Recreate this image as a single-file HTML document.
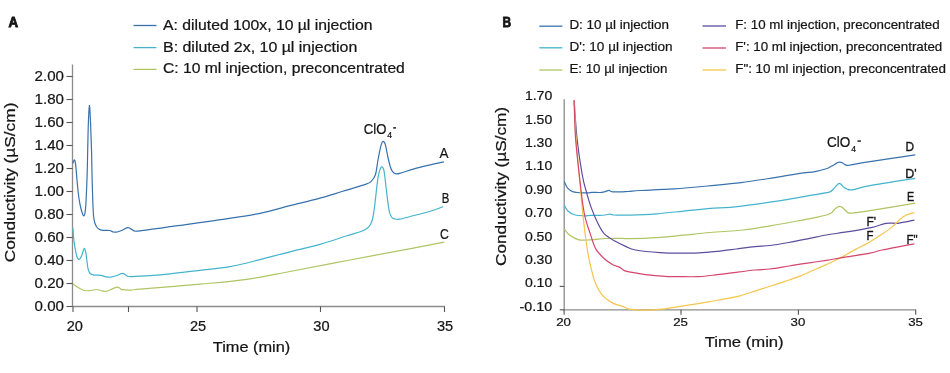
<!DOCTYPE html>
<html><head><meta charset="utf-8"><style>
html,body{margin:0;padding:0;background:#fff;width:950px;height:373px;overflow:hidden}
svg{display:block;will-change:transform}
text{font-family:"Liberation Sans", sans-serif;fill:#151515;stroke:#151515;stroke-width:0.22px}
</style></head><body>
<svg width="950" height="373" viewBox="0 0 950 373">
<rect width="950" height="373" fill="#fff"/>
<text x="8.4" y="26.8" font-size="15.0" text-anchor="start" font-weight="bold" textLength="9.6" lengthAdjust="spacingAndGlyphs" style="stroke-width:0.9px">A</text>
<line x1="133.5" y1="25.5" x2="156.5" y2="25.5" stroke="#3872ad" stroke-width="1.3"/>
<text x="163" y="29.8" font-size="14.1" text-anchor="start" font-weight="normal" textLength="209.5" lengthAdjust="spacingAndGlyphs">A: diluted 100x, 10 µl injection</text>
<line x1="133.5" y1="47.6" x2="156.5" y2="47.6" stroke="#44b4cc" stroke-width="1.3"/>
<text x="163" y="51.5" font-size="14.1" text-anchor="start" font-weight="normal" textLength="194.3" lengthAdjust="spacingAndGlyphs">B: diluted 2x, 10 µl injection</text>
<line x1="133.5" y1="69.4" x2="156.5" y2="69.4" stroke="#afc563" stroke-width="1.3"/>
<text x="163" y="73.0" font-size="14.1" text-anchor="start" font-weight="normal" textLength="241.8" lengthAdjust="spacingAndGlyphs">C: 10 ml injection, preconcentrated</text>
<line x1="72.5" y1="64.5" x2="72.5" y2="307" stroke="#8c8c8c" stroke-width="1.3"/>
<line x1="72" y1="306.5" x2="444.8" y2="306.5" stroke="#8c8c8c" stroke-width="1.3"/>
<line x1="66.5" y1="306.5" x2="72.5" y2="306.5" stroke="#555" stroke-width="1.1"/>
<text x="64" y="311.1" font-size="14.0" text-anchor="end" font-weight="normal" textLength="29.4" lengthAdjust="spacingAndGlyphs">0.00</text>
<line x1="66.5" y1="283.5" x2="72.5" y2="283.5" stroke="#555" stroke-width="1.1"/>
<text x="64" y="288.1" font-size="14.0" text-anchor="end" font-weight="normal" textLength="29.4" lengthAdjust="spacingAndGlyphs">0.20</text>
<line x1="66.5" y1="260.5" x2="72.5" y2="260.5" stroke="#555" stroke-width="1.1"/>
<text x="64" y="265.1" font-size="14.0" text-anchor="end" font-weight="normal" textLength="29.4" lengthAdjust="spacingAndGlyphs">0.40</text>
<line x1="66.5" y1="237.5" x2="72.5" y2="237.5" stroke="#555" stroke-width="1.1"/>
<text x="64" y="242.1" font-size="14.0" text-anchor="end" font-weight="normal" textLength="29.4" lengthAdjust="spacingAndGlyphs">0.60</text>
<line x1="66.5" y1="214.5" x2="72.5" y2="214.5" stroke="#555" stroke-width="1.1"/>
<text x="64" y="219.1" font-size="14.0" text-anchor="end" font-weight="normal" textLength="29.4" lengthAdjust="spacingAndGlyphs">0.80</text>
<line x1="66.5" y1="191.5" x2="72.5" y2="191.5" stroke="#555" stroke-width="1.1"/>
<text x="64" y="196.1" font-size="14.0" text-anchor="end" font-weight="normal" textLength="29.4" lengthAdjust="spacingAndGlyphs">1.00</text>
<line x1="66.5" y1="168.5" x2="72.5" y2="168.5" stroke="#555" stroke-width="1.1"/>
<text x="64" y="173.1" font-size="14.0" text-anchor="end" font-weight="normal" textLength="29.4" lengthAdjust="spacingAndGlyphs">1.20</text>
<line x1="66.5" y1="145.5" x2="72.5" y2="145.5" stroke="#555" stroke-width="1.1"/>
<text x="64" y="150.1" font-size="14.0" text-anchor="end" font-weight="normal" textLength="29.4" lengthAdjust="spacingAndGlyphs">1.40</text>
<line x1="66.5" y1="122.5" x2="72.5" y2="122.5" stroke="#555" stroke-width="1.1"/>
<text x="64" y="127.1" font-size="14.0" text-anchor="end" font-weight="normal" textLength="29.4" lengthAdjust="spacingAndGlyphs">1.60</text>
<line x1="66.5" y1="99.5" x2="72.5" y2="99.5" stroke="#555" stroke-width="1.1"/>
<text x="64" y="104.1" font-size="14.0" text-anchor="end" font-weight="normal" textLength="29.4" lengthAdjust="spacingAndGlyphs">1.80</text>
<line x1="66.5" y1="76.5" x2="72.5" y2="76.5" stroke="#555" stroke-width="1.1"/>
<text x="64" y="81.1" font-size="14.0" text-anchor="end" font-weight="normal" textLength="29.4" lengthAdjust="spacingAndGlyphs">2.00</text>
<line x1="73" y1="306.5" x2="73" y2="312" stroke="#555" stroke-width="1.1"/>
<line x1="128.5" y1="306.5" x2="128.5" y2="312" stroke="#555" stroke-width="1.1"/>
<line x1="197" y1="306.5" x2="197" y2="312" stroke="#555" stroke-width="1.1"/>
<line x1="320.5" y1="306.5" x2="320.5" y2="312" stroke="#555" stroke-width="1.1"/>
<line x1="444.5" y1="306.5" x2="444.5" y2="312" stroke="#555" stroke-width="1.1"/>
<text x="74.8" y="331" font-size="14.2" text-anchor="middle" font-weight="normal" textLength="16.2" lengthAdjust="spacingAndGlyphs">20</text>
<text x="198" y="331" font-size="14.2" text-anchor="middle" font-weight="normal" textLength="16.2" lengthAdjust="spacingAndGlyphs">25</text>
<text x="321.4" y="331" font-size="14.2" text-anchor="middle" font-weight="normal" textLength="16.2" lengthAdjust="spacingAndGlyphs">30</text>
<text x="445" y="331" font-size="14.2" text-anchor="middle" font-weight="normal" textLength="16.2" lengthAdjust="spacingAndGlyphs">35</text>
<text x="212.8" y="351.8" font-size="14.2" text-anchor="start" font-weight="normal" textLength="77.5" lengthAdjust="spacingAndGlyphs">Time (min)</text>
<g transform="translate(15.0,262.2) rotate(-90)"><text x="0" y="0" font-size="14.2" text-anchor="start" font-weight="normal" textLength="159.6" lengthAdjust="spacingAndGlyphs">Conductivity (µS/cm)</text></g>
<text x="363.8" y="133.9" font-size="13.8" text-anchor="start" font-weight="normal" textLength="22.6" lengthAdjust="spacingAndGlyphs">ClO</text>
<text x="387.2" y="138.3" font-size="8.4" text-anchor="start" font-weight="normal" textLength="4.8" lengthAdjust="spacingAndGlyphs">4</text>
<rect x="393.2" y="127.2" width="2.8" height="1.4" fill="#111"/>
<text x="439.6" y="158.1" font-size="14" text-anchor="start" font-weight="normal" textLength="9" lengthAdjust="spacingAndGlyphs">A</text>
<text x="441.8" y="203.2" font-size="14" text-anchor="start" font-weight="normal" textLength="7.6" lengthAdjust="spacingAndGlyphs">B</text>
<text x="440" y="239" font-size="14" text-anchor="start" font-weight="normal" textLength="8.8" lengthAdjust="spacingAndGlyphs">C</text>
<path d="M73.0,283.8 C73.8,284.4 76.2,286.5 78.1,287.6 C80.0,288.7 82.3,290.0 84.4,290.5 C86.5,291.0 88.7,290.7 90.7,290.5 C92.7,290.3 94.7,289.5 96.4,289.5 C98.1,289.5 99.2,290.2 100.8,290.5 C102.4,290.8 104.2,291.6 105.9,291.4 C107.6,291.2 109.1,290.2 110.9,289.5 C112.7,288.8 115.1,287.4 116.6,287.2 C118.1,287.0 118.8,287.8 119.8,288.2 C120.8,288.6 120.4,289.4 122.3,289.7 C124.2,290.0 128.2,290.2 131.2,290.1 C134.1,290.0 128.5,290.1 140.0,289.1 C151.5,288.1 182.5,285.8 200.0,284.2 C217.5,282.6 230.0,281.7 245.0,279.6 C260.0,277.5 272.5,274.8 290.0,271.5 C307.5,268.2 329.7,263.9 350.0,260.0 C370.3,256.1 396.3,251.3 412.0,248.3 C427.7,245.3 438.9,243.2 444.3,242.2" fill="none" stroke="#afc563" stroke-width="1.2" stroke-linejoin="round"/>
<path d="M72.9,228.0 C73.1,230.2 73.5,237.5 74.0,241.3 C74.5,245.1 75.1,248.3 75.6,251.0 C76.1,253.7 76.6,256.0 77.2,257.4 C77.8,258.8 78.6,259.6 79.3,259.3 C80.0,259.0 80.8,257.6 81.6,255.8 C82.4,254.0 83.5,249.0 84.2,248.5 C84.9,248.0 85.3,250.6 85.8,252.6 C86.2,254.6 86.5,257.9 86.9,260.6 C87.3,263.3 87.5,266.5 88.0,268.6 C88.5,270.8 89.1,272.4 90.1,273.5 C91.1,274.6 92.3,274.8 94.1,275.1 C95.9,275.4 98.8,275.0 100.8,275.3 C102.8,275.6 104.2,276.5 105.9,276.8 C107.6,277.1 109.2,277.4 110.9,277.2 C112.6,277.0 114.0,276.4 116.0,275.8 C118.0,275.2 121.0,273.2 122.9,273.3 C124.8,273.4 126.0,275.6 127.4,276.2 C128.8,276.8 129.1,276.6 131.2,276.6 C133.3,276.6 133.5,276.7 140.0,276.2 C146.5,275.7 160.0,274.8 170.0,273.8 C180.0,272.8 190.0,271.6 200.0,270.4 C210.0,269.2 220.0,268.4 230.0,266.6 C240.0,264.8 250.0,262.1 260.0,259.6 C270.0,257.1 280.0,254.3 290.0,251.8 C300.0,249.3 310.5,247.1 320.0,244.4 C329.5,241.7 340.1,237.9 346.8,235.8 C353.5,233.7 356.9,232.9 360.2,231.7 C363.5,230.5 365.2,229.6 366.9,228.4 C368.6,227.2 369.5,226.2 370.5,224.5 C371.5,222.8 372.1,220.9 372.8,218.0 C373.5,215.1 373.6,213.6 374.5,207.0 C375.4,200.4 376.9,184.8 377.9,178.4 C378.9,172.0 379.7,170.4 380.4,168.5 C381.1,166.6 381.7,166.8 382.2,166.9 C382.7,167.0 383.0,167.6 383.4,168.8 C383.8,170.0 383.9,169.8 384.5,174.0 C385.1,178.2 386.0,187.4 386.8,193.7 C387.6,199.9 388.5,207.7 389.3,211.5 C390.1,215.3 390.8,215.6 391.5,216.8 C392.2,218.0 392.1,218.2 393.5,218.6 C394.9,219.0 396.3,219.7 399.7,219.2 C403.1,218.7 409.0,216.8 414.1,215.5 C419.2,214.2 425.4,212.7 430.2,211.2 C435.0,209.7 441.0,207.4 443.1,206.6" fill="none" stroke="#44b4cc" stroke-width="1.2" stroke-linejoin="round"/>
<path d="M72.8,163.5 C73.0,162.9 73.6,160.6 74.0,160.2 C74.4,159.8 74.7,159.7 75.0,161.0 C75.3,162.3 75.7,164.8 76.0,168.0 C76.3,171.2 76.6,175.7 77.0,180.0 C77.4,184.3 77.9,189.9 78.4,194.0 C78.9,198.1 79.4,201.2 80.0,204.3 C80.6,207.4 81.4,210.4 82.0,212.3 C82.6,214.2 83.2,215.8 83.7,215.8 C84.2,215.8 84.7,214.9 85.1,212.3 C85.5,209.7 85.8,206.4 86.1,200.3 C86.4,194.2 86.8,184.4 87.1,176.0 C87.4,167.6 87.5,159.0 87.7,150.0 C87.9,141.0 88.1,129.4 88.4,122.0 C88.7,114.6 89.1,105.8 89.4,105.5 C89.7,105.2 90.1,112.6 90.4,120.0 C90.8,127.4 91.2,140.3 91.5,150.0 C91.8,159.7 91.9,169.0 92.1,178.0 C92.3,187.0 92.7,197.7 92.9,204.0 C93.2,210.3 93.2,212.8 93.6,216.0 C93.9,219.2 94.3,221.5 95.0,223.5 C95.7,225.5 96.7,227.0 97.5,228.0 C98.3,229.0 99.2,229.2 100.0,229.6 C100.8,230.0 101.0,230.2 102.6,230.4 C104.2,230.6 107.8,230.2 109.6,230.5 C111.4,230.8 112.1,231.8 113.4,232.0 C114.7,232.2 115.7,232.3 117.2,232.0 C118.7,231.7 120.5,230.9 122.2,230.2 C123.9,229.5 125.9,227.9 127.3,227.6 C128.7,227.3 129.2,228.1 130.4,228.6 C131.6,229.1 132.6,230.4 134.2,230.8 C135.8,231.2 132.8,231.7 140.0,230.8 C147.2,230.0 164.5,227.5 177.6,225.7 C190.7,223.9 205.1,222.0 218.8,219.9 C232.5,217.8 248.1,215.7 260.0,213.3 C271.9,210.9 280.0,208.2 290.0,205.7 C300.0,203.2 311.2,200.6 320.0,198.2 C328.8,195.8 335.3,193.5 343.0,191.2 C350.7,188.8 361.4,185.8 366.1,184.1 C370.8,182.4 369.8,182.7 371.4,181.1 C373.0,179.5 374.4,177.9 375.5,174.5 C376.6,171.1 377.1,164.9 377.9,160.5 C378.7,156.1 379.7,150.8 380.4,147.8 C381.1,144.8 381.6,143.7 382.0,142.6 C382.4,141.5 382.6,141.5 383.0,141.4 C383.4,141.3 383.8,141.6 384.2,142.2 C384.6,142.8 384.9,142.6 385.5,145.2 C386.1,147.8 387.3,154.4 388.1,158.0 C388.9,161.6 389.7,164.8 390.4,167.0 C391.1,169.2 391.5,170.2 392.4,171.3 C393.3,172.4 394.4,173.3 395.6,173.7 C396.8,174.0 396.6,174.2 399.7,173.4 C402.8,172.6 409.0,170.2 414.1,168.8 C419.2,167.4 425.2,166.0 430.2,164.8 C435.2,163.7 441.6,162.4 443.9,161.9" fill="none" stroke="#3872ad" stroke-width="1.2" stroke-linejoin="round"/>
<text x="502.6" y="26.8" font-size="15.0" text-anchor="start" font-weight="bold" textLength="8.6" lengthAdjust="spacingAndGlyphs" style="stroke-width:0.9px">B</text>
<line x1="539.3" y1="26.2" x2="562.4" y2="26.2" stroke="#3872ad" stroke-width="1.3"/>
<text x="569.4" y="29.3" font-size="12.8" text-anchor="start" font-weight="normal" textLength="99.6" lengthAdjust="spacingAndGlyphs">D: 10 µl injection</text>
<line x1="539.3" y1="47.8" x2="562.4" y2="47.8" stroke="#44b4cc" stroke-width="1.3"/>
<text x="569.4" y="50.9" font-size="12.8" text-anchor="start" font-weight="normal" textLength="103.2" lengthAdjust="spacingAndGlyphs">D': 10 µl injection</text>
<line x1="539.3" y1="70" x2="562.4" y2="70" stroke="#afc563" stroke-width="1.3"/>
<text x="569.4" y="73.1" font-size="12.8" text-anchor="start" font-weight="normal" textLength="98" lengthAdjust="spacingAndGlyphs">E: 10 µl injection</text>
<line x1="702.5" y1="26" x2="726" y2="26" stroke="#5d4c9e" stroke-width="1.3"/>
<text x="735.2" y="29.4" font-size="12.8" text-anchor="start" font-weight="normal" textLength="204.4" lengthAdjust="spacingAndGlyphs">F: 10 ml injection, preconcentrated</text>
<line x1="702.5" y1="48" x2="726" y2="48" stroke="#d4466c" stroke-width="1.3"/>
<text x="735.2" y="51.4" font-size="12.8" text-anchor="start" font-weight="normal" textLength="207.1" lengthAdjust="spacingAndGlyphs">F': 10 ml injection, preconcentrated</text>
<line x1="702.5" y1="70" x2="726" y2="70" stroke="#f4c64e" stroke-width="1.3"/>
<text x="735.2" y="73.4" font-size="12.8" text-anchor="start" font-weight="normal" textLength="210.7" lengthAdjust="spacingAndGlyphs">F": 10 ml injection, preconcentrated</text>
<line x1="564.2" y1="99.3" x2="564.2" y2="310.4" stroke="#8c8c8c" stroke-width="1.3"/>
<line x1="563.6" y1="309.8" x2="916" y2="309.8" stroke="#8c8c8c" stroke-width="1.3"/>
<line x1="559.7" y1="286.4" x2="564.2" y2="286.4" stroke="#555" stroke-width="1.1"/>
<line x1="559.7" y1="309.8" x2="564.2" y2="309.8" stroke="#555" stroke-width="1.1"/>
<line x1="564.1" y1="309.8" x2="564.1" y2="314.7" stroke="#555" stroke-width="1.1"/>
<line x1="681" y1="309.8" x2="681" y2="314.7" stroke="#555" stroke-width="1.1"/>
<line x1="798.4" y1="309.8" x2="798.4" y2="314.7" stroke="#555" stroke-width="1.1"/>
<line x1="915.7" y1="309.8" x2="915.7" y2="314.7" stroke="#555" stroke-width="1.1"/>
<text x="552.2" y="100.30000000000001" font-size="12.6" text-anchor="end" font-weight="normal" textLength="27.3" lengthAdjust="spacingAndGlyphs">1.70</text>
<text x="552.2" y="123.68" font-size="12.6" text-anchor="end" font-weight="normal" textLength="27.3" lengthAdjust="spacingAndGlyphs">1.50</text>
<text x="552.2" y="147.06" font-size="12.6" text-anchor="end" font-weight="normal" textLength="27.3" lengthAdjust="spacingAndGlyphs">1.30</text>
<text x="552.2" y="170.44000000000003" font-size="12.6" text-anchor="end" font-weight="normal" textLength="27.3" lengthAdjust="spacingAndGlyphs">1.10</text>
<text x="552.2" y="193.82000000000002" font-size="12.6" text-anchor="end" font-weight="normal" textLength="27.3" lengthAdjust="spacingAndGlyphs">0.90</text>
<text x="552.2" y="217.20000000000002" font-size="12.6" text-anchor="end" font-weight="normal" textLength="27.3" lengthAdjust="spacingAndGlyphs">0.70</text>
<text x="552.2" y="240.58" font-size="12.6" text-anchor="end" font-weight="normal" textLength="27.3" lengthAdjust="spacingAndGlyphs">0.50</text>
<text x="552.2" y="263.96" font-size="12.6" text-anchor="end" font-weight="normal" textLength="27.3" lengthAdjust="spacingAndGlyphs">0.30</text>
<text x="552.2" y="287.34" font-size="12.6" text-anchor="end" font-weight="normal" textLength="27.3" lengthAdjust="spacingAndGlyphs">0.10</text>
<text x="552.2" y="310.71999999999997" font-size="12.6" text-anchor="end" font-weight="normal" textLength="32.6" lengthAdjust="spacingAndGlyphs">-0.10</text>
<text x="563.6" y="326.3" font-size="11.8" text-anchor="middle" font-weight="normal" textLength="14.7" lengthAdjust="spacingAndGlyphs">20</text>
<text x="680.5" y="326.3" font-size="11.8" text-anchor="middle" font-weight="normal" textLength="14.7" lengthAdjust="spacingAndGlyphs">25</text>
<text x="797.9" y="326.3" font-size="11.8" text-anchor="middle" font-weight="normal" textLength="14.7" lengthAdjust="spacingAndGlyphs">30</text>
<text x="915.5" y="326.3" font-size="11.8" text-anchor="middle" font-weight="normal" textLength="14.7" lengthAdjust="spacingAndGlyphs">35</text>
<text x="704.7" y="347.4" font-size="14.2" text-anchor="start" font-weight="normal" textLength="79" lengthAdjust="spacingAndGlyphs">Time (min)</text>
<g transform="translate(505.9,266) rotate(-90)"><text x="0" y="0" font-size="14.2" text-anchor="start" font-weight="normal" textLength="159.1" lengthAdjust="spacingAndGlyphs">Conductivity (µS/cm)</text></g>
<text x="827.1" y="146.7" font-size="13.8" text-anchor="start" font-weight="normal" textLength="23.3" lengthAdjust="spacingAndGlyphs">ClO</text>
<text x="851.2" y="151.5" font-size="8.4" text-anchor="start" font-weight="normal" textLength="4.8" lengthAdjust="spacingAndGlyphs">4</text>
<rect x="857.5" y="140.4" width="3.4" height="1.4" fill="#111"/>
<text x="905.4" y="150.6" font-size="12" text-anchor="start" font-weight="normal" textLength="8.6" lengthAdjust="spacingAndGlyphs" style="stroke-width:0.35px">D</text>
<text x="905.2" y="177.5" font-size="12" text-anchor="start" font-weight="normal" textLength="11.4" lengthAdjust="spacingAndGlyphs" style="stroke-width:0.35px">D'</text>
<text x="906.9" y="200.7" font-size="12" text-anchor="start" font-weight="normal" textLength="7.2" lengthAdjust="spacingAndGlyphs" style="stroke-width:0.35px">E</text>
<text x="866.4" y="226.1" font-size="12" text-anchor="start" font-weight="normal" textLength="9.6" lengthAdjust="spacingAndGlyphs" style="stroke-width:0.35px">F'</text>
<text x="866.4" y="240.4" font-size="12" text-anchor="start" font-weight="normal" textLength="7" lengthAdjust="spacingAndGlyphs" style="stroke-width:0.35px">F</text>
<text x="906.5" y="243.6" font-size="12" text-anchor="start" font-weight="normal" textLength="11.2" lengthAdjust="spacingAndGlyphs" style="stroke-width:0.35px">F"</text>
<path d="M564.3,229.1 C565.2,230.1 567.1,233.3 569.5,235.1 C571.9,236.9 575.4,239.0 578.9,239.8 C582.4,240.6 585.8,240.0 590.2,239.8 C594.6,239.6 600.5,238.8 605.2,238.5 C609.9,238.2 614.2,238.3 618.3,238.3 C622.4,238.3 623.6,238.7 630.0,238.6 C636.4,238.5 647.9,238.2 656.8,237.6 C665.7,237.0 674.7,236.0 683.6,235.2 C692.5,234.3 700.4,233.4 710.4,232.5 C720.4,231.6 733.4,231.1 743.4,230.0 C753.4,228.9 761.3,227.3 770.2,225.8 C779.1,224.3 789.5,222.4 797.0,221.0 C804.5,219.6 809.5,218.8 815.0,217.6 C820.5,216.4 826.7,215.2 830.0,213.8 C833.3,212.4 833.5,210.2 834.7,209.1 C836.0,208.0 836.7,207.5 837.5,207.0 C838.3,206.5 838.8,206.3 839.4,206.3 C840.0,206.3 840.6,206.5 841.2,206.8 C841.8,207.1 842.1,207.2 843.2,208.2 C844.3,209.2 846.4,211.8 847.9,212.6 C849.4,213.4 848.8,213.4 852.5,213.1 C856.2,212.8 859.5,212.2 870.0,210.6 C880.5,208.9 907.8,204.4 915.3,203.2" fill="none" stroke="#afc563" stroke-width="1.2" stroke-linejoin="round"/>
<path d="M564.3,205.0 C564.8,205.9 565.8,209.0 567.6,210.7 C569.4,212.4 572.3,214.2 575.1,215.0 C577.9,215.8 582.0,215.7 584.5,215.8 C587.0,215.9 587.7,215.5 590.2,215.4 C592.7,215.3 597.1,215.5 599.6,215.4 C602.1,215.3 603.5,215.2 605.2,215.0 C606.9,214.8 608.5,214.1 609.9,214.1 C611.3,214.1 610.2,214.8 613.6,215.0 C617.0,215.2 622.8,215.3 630.0,215.1 C637.2,214.9 647.9,214.5 656.8,213.8 C665.7,213.1 674.7,212.0 683.6,211.1 C692.5,210.2 702.7,209.0 710.4,208.4 C718.1,207.8 722.3,208.0 730.0,207.3 C737.7,206.6 747.9,205.3 756.8,204.1 C765.7,202.9 774.7,201.5 783.6,200.1 C792.5,198.7 802.8,196.7 810.4,195.4 C818.0,194.1 825.2,193.3 829.1,192.2 C833.0,191.0 832.4,189.8 833.8,188.5 C835.2,187.2 836.6,185.3 837.5,184.5 C838.4,183.7 838.8,183.4 839.4,183.4 C840.0,183.4 840.4,183.8 841.0,184.3 C841.6,184.8 842.2,185.8 843.2,186.6 C844.2,187.4 845.4,188.5 846.9,189.0 C848.4,189.5 848.6,190.4 852.5,189.8 C856.4,189.2 859.5,187.6 870.0,185.7 C880.5,183.8 907.8,179.6 915.3,178.4" fill="none" stroke="#44b4cc" stroke-width="1.2" stroke-linejoin="round"/>
<path d="M564.3,181.6 C564.8,182.7 566.1,186.4 567.6,188.1 C569.1,189.8 571.1,191.1 573.3,191.9 C575.5,192.7 578.3,192.7 580.8,192.8 C583.3,193.0 586.4,192.9 588.3,192.8 C590.2,192.7 590.1,192.4 592.0,192.3 C593.9,192.2 597.6,192.6 599.6,192.5 C601.6,192.4 602.7,192.2 604.3,191.9 C605.9,191.6 607.6,190.4 609.0,190.4 C610.4,190.4 609.6,191.7 612.7,191.9 C615.8,192.1 623.2,191.7 627.7,191.5 C632.2,191.3 632.3,190.9 640.0,190.5 C647.7,190.1 662.5,189.7 673.7,188.9 C684.9,188.2 696.2,187.1 707.4,186.0 C718.6,184.9 729.8,184.0 741.0,182.6 C752.2,181.2 764.9,179.1 774.7,177.6 C784.5,176.1 793.3,174.4 800.0,173.4 C806.7,172.4 810.6,172.4 815.0,171.6 C819.4,170.8 823.5,169.7 826.3,168.8 C829.1,167.9 830.2,166.9 831.9,166.0 C833.6,165.1 835.4,163.7 836.6,163.1 C837.9,162.5 838.5,162.2 839.4,162.2 C840.3,162.1 841.3,162.4 842.2,162.8 C843.1,163.2 844.0,164.2 845.0,164.6 C846.0,165.0 846.6,165.4 847.9,165.4 C849.1,165.4 848.8,165.2 852.5,164.6 C856.2,164.0 859.5,163.2 870.0,161.6 C880.5,160.0 907.8,155.9 915.3,154.8" fill="none" stroke="#3872ad" stroke-width="1.2" stroke-linejoin="round"/>
<path d="M574.1,100.4 C574.6,107.0 575.8,127.6 577.2,140.0 C578.6,152.4 580.8,166.3 582.3,175.0 C583.8,183.7 584.9,186.4 586.4,191.9 C587.9,197.4 589.4,202.7 591.3,207.9 C593.2,213.1 595.6,218.6 597.7,222.9 C599.8,227.2 601.2,230.6 604.1,233.6 C607.0,236.6 611.3,239.0 614.9,241.1 C618.5,243.2 622.2,244.9 625.6,246.4 C629.0,247.9 629.8,249.0 635.5,250.0 C641.2,251.0 652.6,252.1 660.0,252.6 C667.4,253.1 673.5,253.1 680.0,253.1 C686.5,253.1 692.5,253.1 698.8,252.8 C705.0,252.5 711.2,251.9 717.5,251.3 C723.8,250.7 730.0,249.8 736.3,249.0 C742.5,248.2 749.4,247.2 755.0,246.6 C760.6,246.0 764.4,246.2 770.0,245.5 C775.6,244.8 782.5,243.6 788.8,242.5 C795.0,241.4 801.2,240.1 807.5,238.8 C813.8,237.6 820.0,236.1 826.3,235.0 C832.5,233.9 837.5,233.4 845.0,232.2 C852.5,231.0 864.3,229.1 871.1,227.6 C877.9,226.1 881.1,224.2 885.8,223.4 C890.5,222.7 894.4,223.7 899.2,223.1 C904.0,222.5 911.9,220.6 914.4,220.1" fill="none" stroke="#5d4c9e" stroke-width="1.2" stroke-linejoin="round"/>
<path d="M574.3,100.4 C574.6,107.0 575.1,124.2 576.2,140.0 C577.3,155.8 579.9,182.3 581.0,195.0 C582.1,207.7 582.3,208.9 583.1,216.4 C583.9,223.9 584.9,232.8 585.9,240.0 C586.9,247.2 588.0,253.5 589.1,259.3 C590.2,265.1 591.8,271.0 592.8,275.0 C593.8,279.0 593.8,279.7 595.4,283.1 C597.0,286.5 599.5,292.0 602.4,295.3 C605.3,298.6 609.3,301.2 612.8,303.1 C616.3,305.0 620.4,305.6 623.3,306.6 C626.2,307.7 626.2,308.8 630.3,309.4 C634.4,310.0 642.5,310.1 647.7,310.1 C652.9,310.1 656.2,309.8 661.6,309.2 C667.0,308.6 674.4,307.2 680.0,306.4 C685.6,305.5 690.0,304.9 695.0,304.1 C700.0,303.3 705.0,302.5 710.0,301.6 C715.0,300.7 720.0,299.9 725.0,298.9 C730.0,297.9 735.0,297.1 740.0,295.8 C745.0,294.5 750.0,292.7 755.0,291.1 C760.0,289.5 765.0,287.9 770.0,286.3 C775.0,284.7 780.0,283.1 785.0,281.4 C790.0,279.7 795.5,277.9 800.0,276.1 C804.5,274.3 807.6,272.7 812.0,270.8 C816.4,268.9 821.9,266.6 826.3,264.6 C830.7,262.6 833.7,261.3 838.5,258.8 C843.3,256.3 850.0,252.3 855.0,249.6 C860.0,246.9 863.9,245.4 868.4,242.8 C872.9,240.2 877.8,237.0 881.8,234.3 C885.8,231.6 889.6,229.0 892.5,226.6 C895.4,224.2 897.0,221.9 899.2,220.0 C901.4,218.1 903.4,216.4 905.9,215.2 C908.4,214.0 913.0,213.0 914.4,212.6" fill="none" stroke="#f4c64e" stroke-width="1.2" stroke-linejoin="round"/>
<path d="M574.1,100.4 C574.4,107.0 574.5,124.2 575.7,140.0 C577.0,155.8 580.1,182.3 581.6,195.0 C583.1,207.7 583.5,210.0 584.9,216.4 C586.3,222.8 588.4,228.2 590.2,233.6 C592.0,239.0 593.3,244.4 595.6,248.6 C597.9,252.8 601.2,255.8 604.1,258.5 C607.0,261.2 610.2,263.3 612.8,264.8 C615.4,266.3 617.8,266.4 619.8,267.4 C621.8,268.4 622.7,270.0 625.0,270.9 C627.3,271.8 629.9,271.9 633.7,272.6 C637.5,273.3 642.5,274.3 647.7,274.9 C652.9,275.5 659.7,276.0 665.1,276.3 C670.5,276.6 674.4,276.6 680.0,276.6 C685.6,276.7 692.5,276.9 698.8,276.6 C705.0,276.3 711.2,275.4 717.5,274.7 C723.8,274.0 730.0,273.1 736.3,272.3 C742.5,271.5 749.4,270.6 755.0,270.0 C760.6,269.4 764.4,269.7 770.0,269.0 C775.6,268.3 782.5,267.0 788.8,266.0 C795.0,265.0 801.2,264.1 807.5,263.2 C813.8,262.2 820.0,261.3 826.3,260.3 C832.5,259.3 837.7,258.3 845.0,257.1 C852.3,255.9 863.8,254.4 870.0,253.2 C876.2,252.0 874.8,251.6 882.2,250.0 C889.6,248.4 909.0,244.8 914.4,243.8" fill="none" stroke="#d4466c" stroke-width="1.2" stroke-linejoin="round"/>
</svg>
</body></html>
